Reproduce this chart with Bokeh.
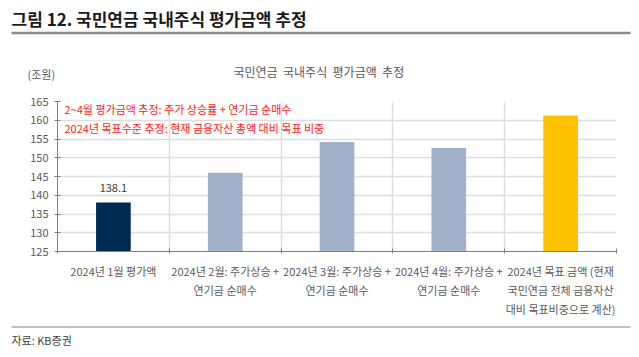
from bokeh.plotting import figure
from bokeh.models import Range1d, FixedTicker, Label
from bokeh.layouts import column
from bokeh.core.properties import value
from bokeh.embed import file_html
from bokeh.resources import INLINE

# ---- data ----
categories = [
    "2024년 1월 평가액",
    "2024년 2월: 주가상승 +\n연기금 순매수",
    "2024년 3월: 주가상승 +\n연기금 순매수",
    "2024년 4월: 주가상승 +\n연기금 순매수",
    "2024년 목표 금액 (현재\n국민연금 전체 금융자산\n대비 목표비중으로 계산)",
]
values = [138.1, 146.0, 154.2, 152.6, 161.3]
bar_colors = ["#002b55", "#a2b1c9", "#a2b1c9", "#a2b1c9", "#ffc000"]
y_ticks = [125, 130, 135, 140, 145, 150, 155, 160, 165]
first_label = "138.1"
fig_title = "그림 12. 국민연금 국내주식 평가금액 추정"
chart_title = "국민연금\u00a0\u00a0국내주식\u00a0\u00a0평가금액\u00a0\u00a0추정"
unit_label = "(조원)"
notes = ["2~4월 평가금액 추정: 주가 상승률 + 연기금 순매수",
         "2024년 목표수준 추정: 현재 금융자산 총액 대비 목표 비중"]
source = "자료: KB증권"

FONT = "Noto Sans CJK KR"
GRAY = "#595959"
W = 639
TOP_H, MAIN_H, BOT_H = 90, 230, 37
FL, FR = 57, 23
FT = 101 - TOP_H
FB = MAIN_H - (251 - TOP_H)


def deco_fig(h):
    f = figure(width=W, height=h, output_backend="svg", toolbar_location=None,
               x_range=Range1d(0, W), y_range=Range1d(h, 0),
               x_axis_location=None, y_axis_location=None,
               min_border=0, min_border_left=0, min_border_right=0,
               min_border_top=0, min_border_bottom=0, frame_align=False)
    f.outline_line_color = None
    f.xgrid.visible = False
    f.ygrid.visible = False
    f.background_fill_color = "white"
    f.border_fill_color = "white"
    return f


# ---- top decoration ----
top = deco_fig(TOP_H)
top.text(x=[11], y=[18], text=[fig_title], text_font=value(FONT),
         text_font_size="17px", text_font_style="bold", text_color="#1a1a1a",
         text_baseline="middle", text_align="left")
top.segment(x0=[11], y0=[32.5], x1=[630], y1=[32.5], line_color="#8c8c8c", line_width=2.5)
top.text(x=[233], y=[71], text=[chart_title], text_font=value(FONT),
         text_font_size="12px", text_color=GRAY, text_baseline="middle", text_align="left")
top.text(x=[27], y=[73], text=[unit_label], text_font=value(FONT),
         text_font_size="11px", text_color=GRAY, text_baseline="middle", text_align="left")

# ---- main chart ----
p = figure(width=W, height=MAIN_H, output_backend="svg", toolbar_location=None,
           x_range=Range1d(-0.5, len(categories) - 0.5),
           y_range=Range1d(y_ticks[0], y_ticks[-1]),
           min_border_left=FL, min_border_right=FR,
           min_border_top=FT, min_border_bottom=FB, frame_align=False)
p.outline_line_color = None
p.background_fill_color = "white"
p.border_fill_color = "white"

xs = list(range(len(categories)))
p.vbar(x=xs, top=values, bottom=y_ticks[0], width=0.31, fill_color=bar_colors,
       line_color=None)

p.text(x=[xs[0]], y=[values[0]], text=[first_label], text_font=value(FONT),
       text_font_size="11px", text_color="#404040", text_align="center",
       text_baseline="bottom", y_offset=-10)

p.xgrid.ticker = FixedTicker(ticks=[i + 0.5 for i in xs])
p.xgrid.grid_line_color = "#dedede"
p.xgrid.grid_line_width = 1.5
p.ygrid.ticker = FixedTicker(ticks=y_ticks)
p.ygrid.grid_line_color = "#dedede"
p.ygrid.grid_line_width = 1.5

xa = p.xaxis[0]
xa.ticker = FixedTicker(ticks=xs, minor_ticks=[i - 0.5 for i in xs] + [xs[-1] + 0.5])
xa.major_label_overrides = {i: c for i, c in zip(xs, categories)}
xa.major_tick_line_color = None
xa.minor_tick_line_color = "#7f7f7f"
xa.minor_tick_in = 3
xa.minor_tick_out = 2
xa.axis_line_color = "#7f7f7f"
xa.major_label_text_font = FONT
xa.major_label_text_font_size = "11px"
xa.major_label_text_color = GRAY
xa.major_label_text_line_height = 1.2
xa.major_label_standoff = 5

ya = p.yaxis[0]
ya.ticker = FixedTicker(ticks=y_ticks)
ya.axis_line_color = "#7f7f7f"
ya.major_tick_line_color = "#7f7f7f"
ya.major_tick_in = 3
ya.major_tick_out = 3
ya.minor_tick_line_color = None
ya.major_label_text_font = FONT
ya.major_label_text_font_size = "11px"
ya.major_label_text_color = GRAY
ya.major_label_standoff = 6

frame_bottom = 251
for cy, txt in zip([108, 127], notes):
    p.add_layout(Label(x=64 - FL, y=frame_bottom - cy, x_units="screen", y_units="screen",
                       text=txt, text_font=FONT, text_font_size="11px",
                       text_color="#ff1a1a", text_baseline="middle", text_align="left"))

# ---- bottom decoration ----
bot = deco_fig(BOT_H)
bot.segment(x0=[11], y0=[6.5], x1=[630], y1=[6.5], line_color="#bfbfbf", line_width=2)
bot.text(x=[11], y=[19], text=[source], text_font=value(FONT),
         text_font_size="11px", text_color="#404040", text_baseline="middle", text_align="left")

layout = column(top, p, bot, spacing=0)
open("out.html", "w").write(file_html(layout, INLINE))
